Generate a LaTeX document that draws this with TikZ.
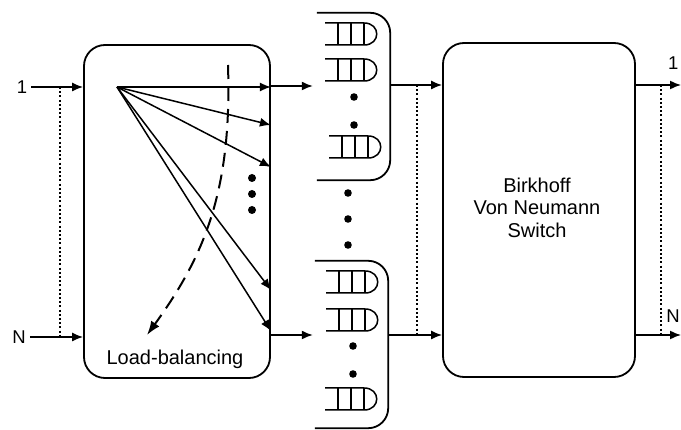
\documentclass[tikz,border=0pt]{standalone}
\usepackage{fontspec}
\setmainfont{Liberation Sans}
\usetikzlibrary{arrows.meta}
\begin{document}
\begin{tikzpicture}[x=1pt,y=-1pt,
  block/.style={draw, line width=1.8pt, rounded corners=21pt, inner sep=0pt},
  bank/.style={inner sep=0pt},
  arr/.style={line width=1.5pt, -{Latex[length=11pt,width=9pt]}},
  dotline/.style={line width=2.2pt, dash pattern=on 2pt off 2.2pt},
  port/.style={inner sep=4pt},
  bigtxt/.style={font=\fontsize{20}{22.5}\selectfont},
  labtxt/.style={font=\fontsize{18.5}{20}\selectfont},
  fifo/.pic={
    \draw[line width=1.5pt] (-26,-11) -- (13,-11)
      .. controls (30,-11) and (30,11) .. (13,11) -- (-26,11);
    \draw[line width=1.5pt] (-13,-11) -- (-13,11) (0,-11) -- (0,11) (13,-11) -- (13,11);
  }]
\useasboundingbox (0,0) rectangle (681,430);
\fill[white] (0,0) rectangle (681,430);

% main blocks
\node[block, minimum width=186pt, minimum height=333pt] (lb) at (177,211.5) {};
\node[bigtxt, anchor=base] (lbtxt) at (175,365) {Load-balancing};
\node[block, minimum width=192pt, minimum height=334pt] (bvn) at (539,210) {};
\node[bigtxt, align=center] (bvntxt) at (537,207.5) {Birkhoff\\Von Neumann\\Switch};

% queue banks (open on the left)
\node[bank, minimum width=77pt, minimum height=167pt] (qt) at (351.5,96.5) {};
\node[bank, minimum width=75pt, minimum height=167pt] (qb) at (350.5,344.5) {};
\draw[line width=1.8pt, rounded corners=20pt]
  ([xshift=4pt]qt.north west) -- (qt.north east) -- (qt.south east) -- ([xshift=4pt]qt.south west);
\draw[line width=1.8pt, rounded corners=20pt]
  ([xshift=2pt]qb.north west) -- (qb.north east) -- (qb.south east) -- ([xshift=2pt]qb.south west);

% queues in the upper bank
\pic at (351,34) {fifo};
\pic at (351,70) {fifo};
\fill (354,97) circle (3.8pt);
\fill (354,125) circle (3.8pt);
\pic at (355,147) {fifo};

% dots between the banks
\fill (348,193) circle (3.8pt);
\fill (348,219) circle (3.8pt);
\fill (348,245) circle (3.8pt);

% queues in the lower bank
\pic at (352,282) {fifo};
\pic at (352,320) {fifo};
\fill (353,346) circle (3.8pt);
\fill (353,374) circle (3.8pt);
\pic at (351,399) {fifo};

% input ports
\node[port, labtxt] (in1) at (22,87) {1};
\node[port, labtxt] (inN) at (19,337) {N};
\draw[arr] (in1.east) -- (lb.west |- in1);
\draw[arr] (inN.east) -- (lb.west |- inN);
\coordinate (dla) at (60,87);
\coordinate (dlb) at (60,337);
\draw[dotline] (dla) -- (dlb);

% fan-out inside the load balancer
\coordinate (fan) at (117,87);
\draw[arr] (fan) -- (lb.east |- 0,87);
\draw[arr] (fan) -- (lb.east |- 0,125);
\draw[arr] (fan) -- (lb.east |- 0,167);
\draw[arr] (fan) -- (lb.east |- 0,290);
\draw[arr] (fan) -- (lb.east |- 0,331);
\fill (252,178) circle (4pt);
\fill (252,194) circle (4pt);
\fill (252,210) circle (4pt);

% dashed balancing sweep
\coordinate (sw1) at (228,65);
\coordinate (sw2) at (147,335);
\draw[line width=2pt, dash pattern=on 14pt off 8pt, -{Latex[length=14pt,width=10pt]}]
  (sw1) .. controls (232,190) and (205,255) .. (sw2);

% load balancer to queue banks
\draw[arr] (lb.east |- 0,86) -- (qt.west |- 0,86);
\draw[arr] (lb.east |- 0,335) -- (qb.west |- 0,335);

% queue banks to the switch
\draw[arr] (qt.east |- 0,85) -- (bvn.west |- 0,85);
\draw[arr] (qb.east |- 0,335) -- (bvn.west |- 0,335);
\coordinate (dma) at (417,85);
\coordinate (dmb) at (417,335);
\draw[dotline] (dma) -- (dmb);

% switch outputs
\coordinate (o1) at (681,85);
\coordinate (oN) at (681,335);
\draw[arr] (bvn.east |- o1) -- (o1);
\draw[arr] (bvn.east |- oN) -- (oN);
\coordinate (dra) at (661,85);
\coordinate (drb) at (661,335);
\draw[dotline] (dra) -- (drb);
\node[labtxt, anchor=west, inner sep=0pt] (out1) at (668,63) {1};
\node[labtxt, anchor=east, inner sep=0pt] (outN) at (680,316) {N};
\end{tikzpicture}
\end{document}
